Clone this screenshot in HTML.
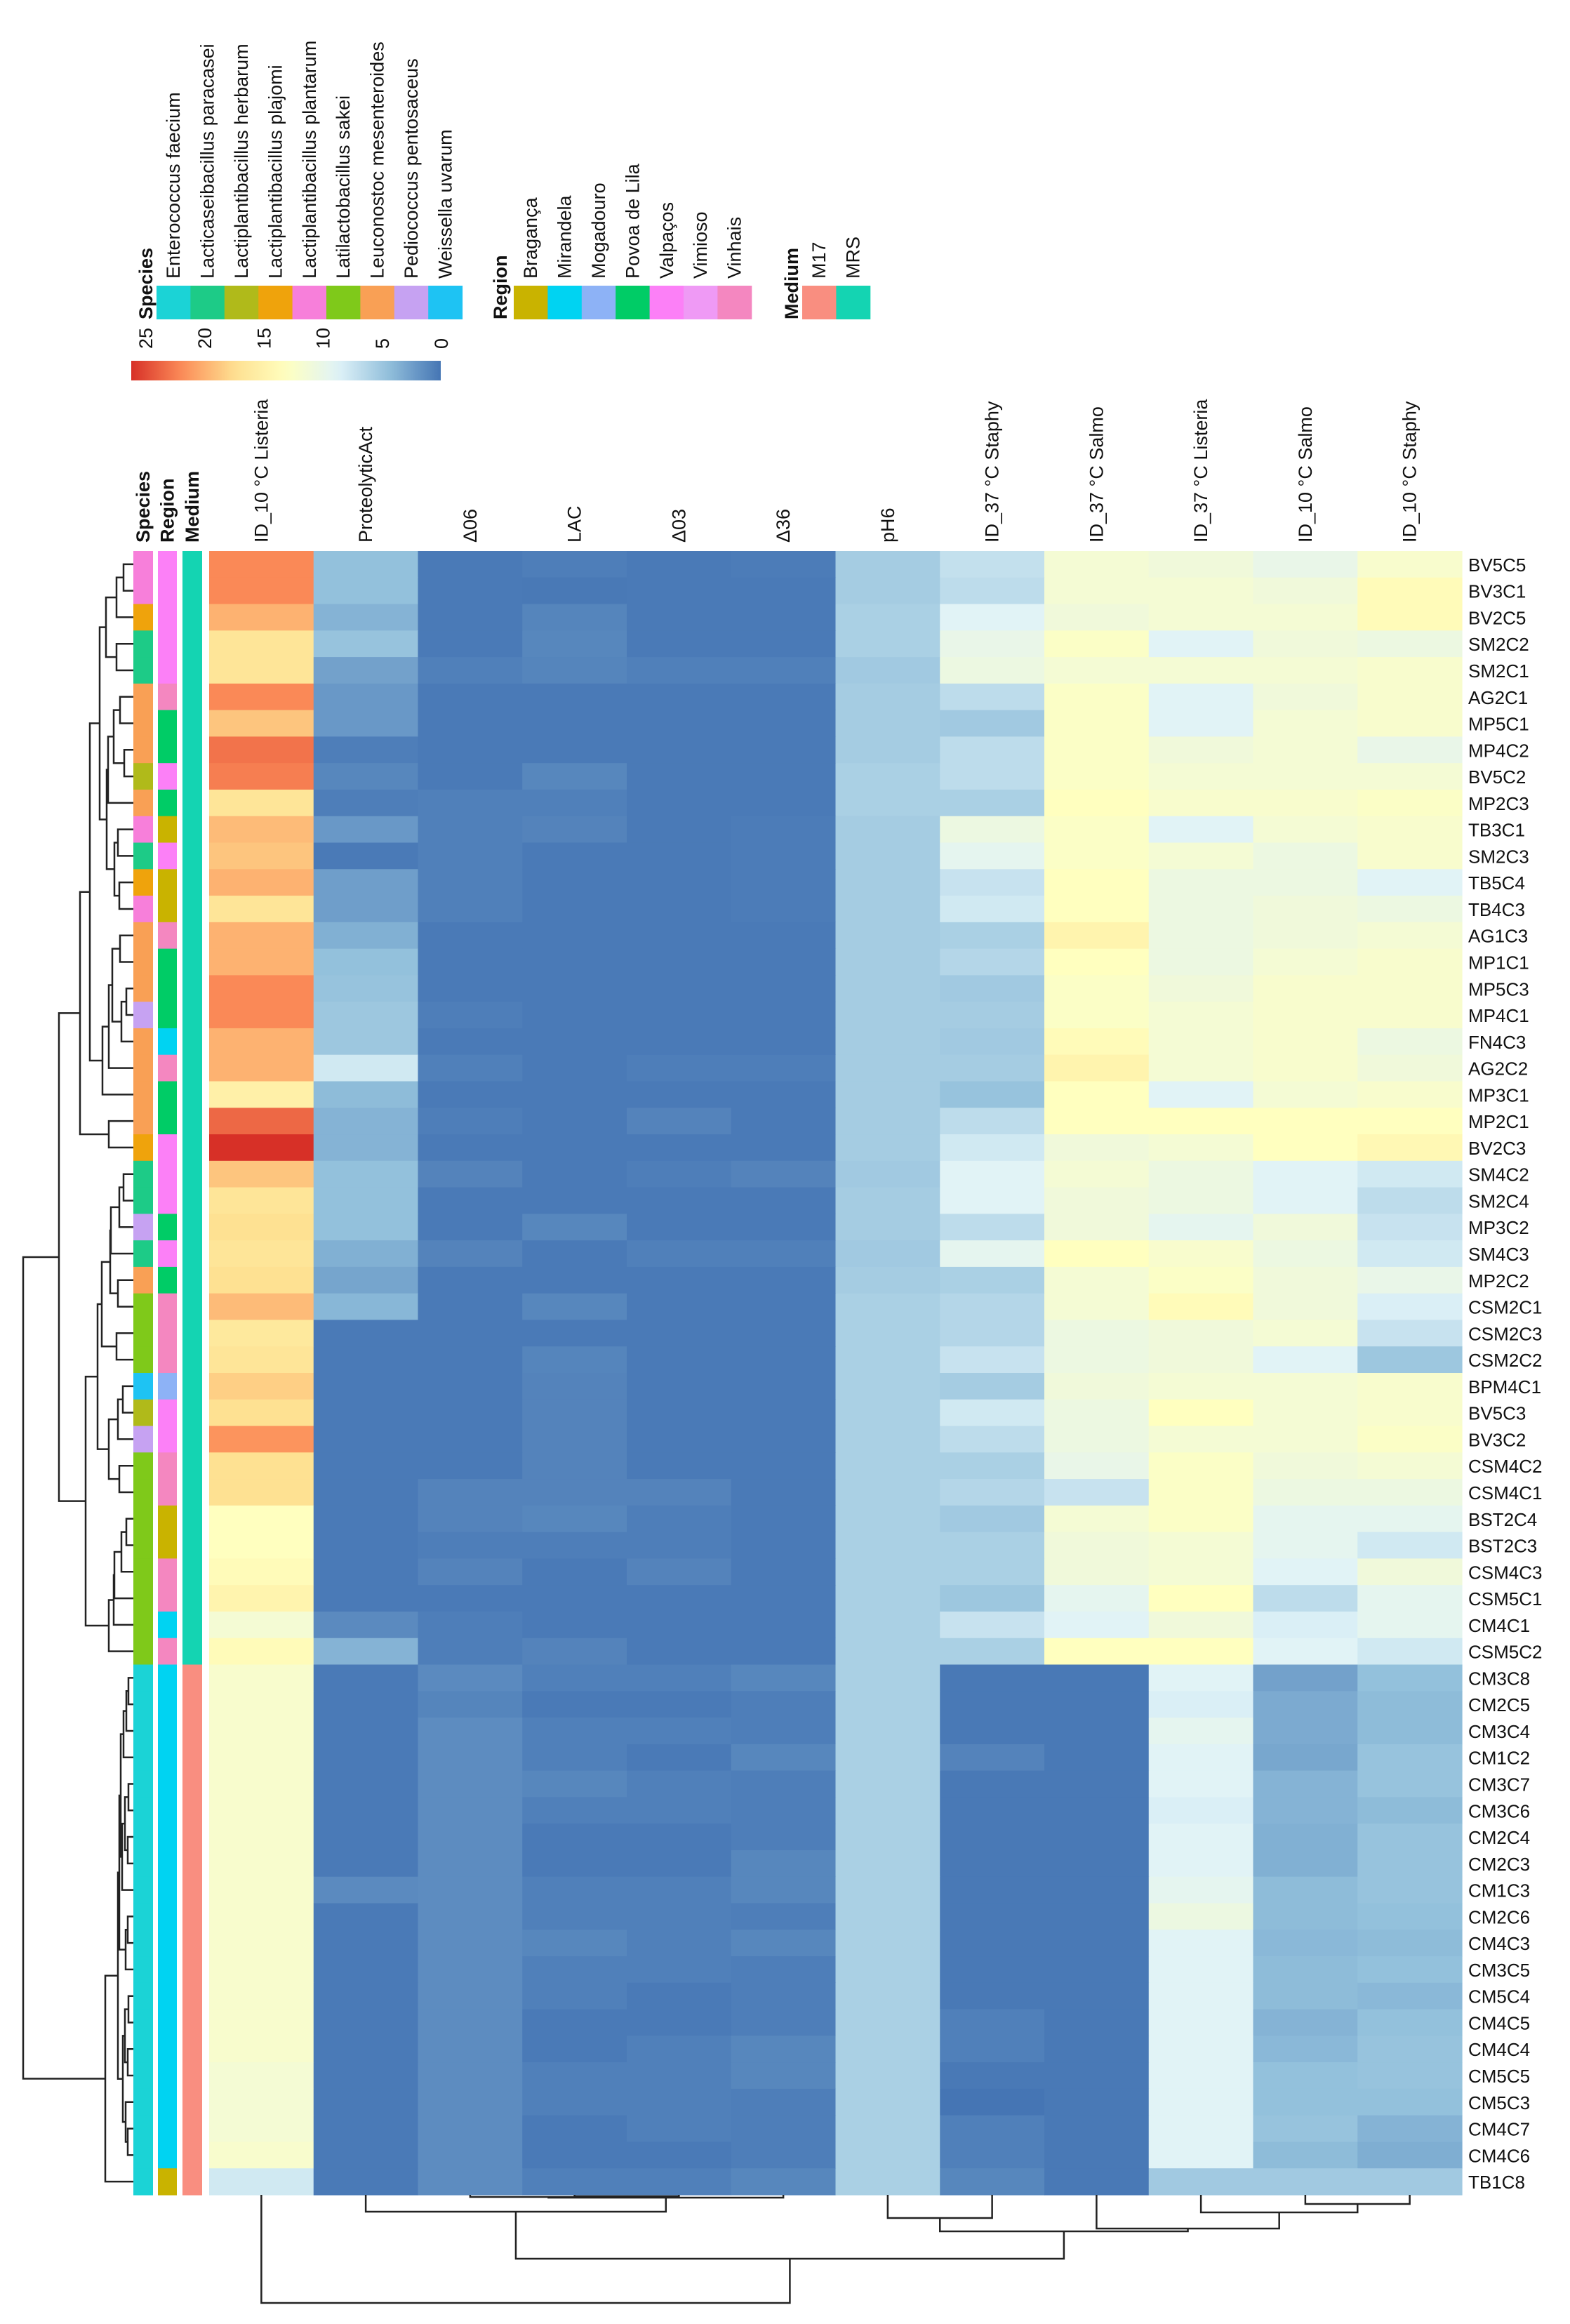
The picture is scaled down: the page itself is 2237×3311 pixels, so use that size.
<!DOCTYPE html>
<html><head><meta charset="utf-8"><style>
html,body{margin:0;padding:0;background:#fff;}
svg{display:block;font-family:"Liberation Sans",Arial,sans-serif;}
</style></head><body>
<svg id="chart" width="2237" height="3311" viewBox="0 0 2237 3311" xmlns="http://www.w3.org/2000/svg">
<rect width="2237" height="3311" fill="#fff"/>
<g id="legend"></g>
<g id="annot"></g>
<g id="cells"></g>
<g id="rowlabels"></g>
<g id="collabels"></g>
<g id="rowdend"></g>
<g id="coldend"></g>
</svg>
<script>
const columns = ["ID_10 °C Listeria","ProteolyticAct","Δ06","LAC","Δ03","Δ36","pH6","ID_37 °C Staphy","ID_37 °C Salmo","ID_37 °C Listeria","ID_10 °C Salmo","ID_10 °C Staphy"];
const rowNames = ["BV5C5","BV3C1","BV2C5","SM2C2","SM2C1","AG2C1","MP5C1","MP4C2","BV5C2","MP2C3","TB3C1","SM2C3","TB5C4","TB4C3","AG1C3","MP1C1","MP5C3","MP4C1","FN4C3","AG2C2","MP3C1","MP2C1","BV2C3","SM4C2","SM2C4","MP3C2","SM4C3","MP2C2","CSM2C1","CSM2C3","CSM2C2","BPM4C1","BV5C3","BV3C2","CSM4C2","CSM4C1","BST2C4","BST2C3","CSM4C3","CSM5C1","CM4C1","CSM5C2","CM3C8","CM2C5","CM3C4","CM1C2","CM3C7","CM3C6","CM2C4","CM2C3","CM1C3","CM2C6","CM4C3","CM3C5","CM5C4","CM4C5","CM4C4","CM5C5","CM5C3","CM4C7","CM4C6","TB1C8"];
const values = [
[21,4.3,0.3,0.5,0.3,0.4,5.2,6.8,11,10.5,9.5,11.5],
[21,4.3,0.3,0.2,0.3,0.3,5.2,6.5,11,11,10.5,13],
[19,3.5,0.3,0.9,0.3,0.3,5.5,8.5,10.5,11,11,13],
[16,4.5,0.3,1.0,0.3,0.3,5.5,9.5,12,8.5,10.5,10],
[16,2.5,0.6,0.9,0.6,0.6,5.0,10,11,11,11,11.5],
[21,2.0,0.3,0.3,0.3,0.3,5.2,6.5,12,8.5,10.5,11.5],
[18,2.0,0.3,0.3,0.3,0.3,5.2,5.0,12,8.5,11,11.5],
[22,0.5,0.3,0.3,0.3,0.3,5.2,6.5,12,10.5,11,9.5],
[21.5,1.0,0.3,1.0,0.3,0.3,5.5,6.5,12,11,11,11],
[16,0.5,0.6,0.6,0.3,0.3,5.5,5.5,12.5,11.5,11.5,12],
[18.5,2.0,0.6,0.8,0.3,0.4,5.2,10,12,8.5,11,11.5],
[18,0.3,0.6,0.3,0.3,0.4,5.2,9,12,11,10,11.5],
[19,2.3,0.6,0.3,0.3,0.4,5.2,7,12.5,10,10,8.5],
[16,2.3,0.6,0.3,0.3,0.4,5.2,7.5,12.5,10,10.5,10],
[19,3.3,0.3,0.3,0.3,0.3,5.2,5.5,14,10,10.5,11],
[19,4.3,0.3,0.3,0.3,0.3,5.2,6,12.5,10,11,11.5],
[21,4.5,0.3,0.3,0.3,0.3,5.2,5,12,10.5,11.5,11.5],
[21,4.8,0.5,0.3,0.3,0.3,5.2,5.2,12,11,11.5,11.5],
[19,4.8,0.3,0.3,0.3,0.3,5.2,5,13,11,11.5,10],
[19,7.5,0.6,0.3,0.5,0.5,5.2,5.2,14,11,11.5,10.5],
[14.5,4.0,0.3,0.3,0.3,0.3,5.2,4.5,12.5,8.5,11,11.5],
[22.5,3.5,0.5,0.3,0.8,0.3,5.2,6.5,12.5,12.5,12.5,12.5],
[25,3.5,0.3,0.3,0.3,0.3,5.2,7.5,10.5,11,12.5,13.5],
[18,4.3,0.8,0.3,0.5,0.8,5.0,8.5,11,10,8.5,7.5],
[16,4.3,0.3,0.3,0.3,0.3,5.2,8.5,10.5,10,8.5,6.5],
[16.5,4.3,0.3,1.0,0.3,0.3,5.2,6.5,10.5,9,10.5,7],
[16,3.3,0.8,0.3,0.6,0.6,5.0,9,12.5,11.5,10,7.5],
[16.5,2.7,0.3,0.3,0.3,0.3,5.2,5.5,11,12,10.5,9.5],
[18.5,3.7,0.3,1.0,0.3,0.3,5.5,6,11,13,10.5,8],
[15.5,0.3,0.3,0.3,0.3,0.3,5.5,6,10,10.5,11,7],
[16,0.3,0.3,0.9,0.3,0.3,5.5,7,10,10.5,8.5,4.8],
[17.5,0.3,0.3,0.8,0.3,0.3,5.5,5.2,10.5,11,11,11.5],
[16.5,0.3,0.3,0.8,0.3,0.3,5.5,7.5,10,12.5,11,11.5],
[20.5,0.3,0.3,0.8,0.3,0.3,5.5,6.5,10,11,11,12],
[16.5,0.3,0.3,0.8,0.3,0.3,5.5,5.5,9.5,12,10.5,11],
[16.5,0.3,0.8,0.8,0.8,0.3,5.5,6,7,12,10,10],
[12.5,0.3,0.8,1.0,0.5,0.3,5.5,5,11,12,9,9],
[12.5,0.3,0.5,0.5,0.5,0.3,5.5,5.5,10.5,11,9,7.5],
[13,0.3,0.8,0.3,0.8,0.3,5.5,5.5,10.5,11,8.5,10.5],
[14,0.3,0.3,0.3,0.3,0.3,5.5,4.8,9,12.5,6.5,9],
[11,1.2,0.5,0.3,0.3,0.3,5.5,7,8.5,10.5,8,9],
[13,3.5,0.5,0.8,0.3,0.3,5.5,5.5,12.5,12.5,8.5,7.5],
[11.5,0.3,1.2,0.6,0.6,1.0,5.5,0.2,0.2,8.5,2.5,4.3],
[11.5,0.3,0.9,0.3,0.3,0.5,5.5,0.2,0.2,8.0,3.0,4.0],
[11.5,0.3,1.3,0.6,0.6,0.5,5.5,0.2,0.2,9.0,3.0,4.0],
[11.5,0.3,1.3,0.6,0.3,1.0,5.5,0.8,0.2,8.5,2.8,4.5],
[11.5,0.3,1.3,1.0,0.6,0.5,5.5,0.2,0.2,8.5,3.5,4.5],
[11.5,0.3,1.3,0.6,0.6,0.5,5.5,0.2,0.2,8.0,3.5,4.0],
[11.5,0.3,1.3,0.3,0.3,0.5,5.5,0.2,0.2,8.5,3.3,4.5],
[11.5,0.3,1.3,0.3,0.3,1.0,5.5,0.2,0.2,8.5,3.3,4.5],
[11.5,1.2,1.3,0.6,0.6,1.0,5.5,0.2,0.2,9.0,4.0,4.5],
[11.5,0.3,1.3,0.6,0.6,0.5,5.5,0.2,0.2,10.0,4.0,4.3],
[11.5,0.3,1.3,1.0,0.6,1.0,5.5,0.2,0.2,8.5,3.8,4.0],
[11.5,0.3,1.3,0.6,0.6,0.5,5.5,0.2,0.2,8.5,4.0,4.3],
[11.5,0.3,1.3,0.6,0.3,0.5,5.5,0.2,0.2,8.5,4.0,3.8],
[11.5,0.3,1.3,0.3,0.3,0.5,5.5,0.6,0.2,8.5,3.5,4.3],
[11.5,0.3,1.3,0.3,0.6,1.0,5.5,0.6,0.2,8.5,3.8,4.5],
[11,0.3,1.3,0.6,0.6,1.0,5.5,0.2,0.2,8.5,4.3,4.5],
[11,0.3,1.3,0.6,0.6,0.5,5.5,0.0,0.2,8.5,4.3,4.3],
[11,0.3,1.3,0.3,0.6,0.5,5.5,0.6,0.2,8.5,4.5,3.5],
[11.5,0.3,1.3,0.3,0.3,0.5,5.5,0.6,0.2,8.5,4.0,3.2],
[7.5,0.3,1.3,0.6,0.6,1.0,5.5,1.0,0.2,5.0,5.0,5.0]
];
const speciesNames = ["Enterococcus faecium","Lacticaseibacillus paracasei","Lactiplantibacillus herbarum","Lactiplantibacillus plajomi","Lactiplantibacillus plantarum","Latilactobacillus sakei","Leuconostoc mesenteroides","Pediococcus pentosaceus","Weissella uvarum"];
const speciesColors = ["#1BD3D6","#1DCB87","#B0BA1A","#EFA30C","#F77FDA","#7FC91A","#F9A055","#C6A2F2","#1EC3F3"];
const regionNames = ["Bragança","Mirandela","Mogadouro","Povoa de Lila","Valpaços","Vimioso","Vinhais"];
const regionColors = ["#C9B300","#00D3F2","#8DB2F6","#00CC66","#FC80F7","#EF9AF5","#F487C0"];
const mediumNames = ["M17","MRS"];
const mediumColors = ["#F98E80","#14D4B2"];
const rowSpecies = [4,4,3,1,1,6,6,6,2,6,4,1,3,4,6,6,6,7,6,6,6,6,3,1,1,7,1,6,5,5,5,8,2,7,5,5,5,5,5,5,5,5,0,0,0,0,0,0,0,0,0,0,0,0,0,0,0,0,0,0,0,0];
const rowRegion = [4,4,4,4,4,6,3,3,4,3,0,4,0,0,6,3,3,3,1,6,3,3,4,4,4,3,4,3,6,6,6,2,4,4,6,6,0,0,6,6,1,6,1,1,1,1,1,1,1,1,1,1,1,1,1,1,1,1,1,1,1,0];
const rowMedium = [1,1,1,1,1,1,1,1,1,1,1,1,1,1,1,1,1,1,1,1,1,1,1,1,1,1,1,1,1,1,1,1,1,1,1,1,1,1,1,1,1,1,0,0,0,0,0,0,0,0,0,0,0,0,0,0,0,0,0,0,0,0];
const scaleTicks = [0,5,10,15,20,25];
const rowTree = [[[[[[[[0,1,176],2,166],[3,4,166],151],[[[[5,6,171],[7,8,177],162],9,154],[[10,11,168],[12,13,170],163],152],142],[[[[14,15,171],[[16,17,180],18,173],160],19,155],20,146],128],[21,22,155],114],
 [[[[[[[23,24,176],25,170],26,158],[27,28,168],157],[29,30,166],145],[[[31,32,175],33,168],[34,35,170],155],139],[[[[[36,37,180],38,173],39,163],40,162],41,155],122],84],
 [[[[[[[42,43,183],44,180],45,176],[[[46,47,183],[48,49,182],178],50,174],172],[[51,52,182],53,179],170],[[[54,55,183],[56,57,182],178],[58,[59,60,182],179],175],168],61,150],33];
const colTree = [0,[[1,[[2,[3,4,3129],3130],5,3131],3151],[[6,7,3160],[8,[9,[10,11,3140],3152],3175],3179],3218],3281];

const NS="http://www.w3.org/2000/svg";
const X0=298, X1=2083, Y0=785, Y1=3127;
const cw=(X1-X0)/columns.length, rh=(Y1-Y0)/rowNames.length;
const colX=i=>X0+i*cw, rowY=i=>Y0+i*rh;
const stops=[[0,[69,117,180]],[4.17,[145,191,219]],[8.33,[224,243,248]],[12.5,[255,255,191]],[16.67,[254,224,144]],[20.83,[252,141,89]],[25,[215,48,39]]];
function color(v){v=Math.max(0,Math.min(25,v));for(let i=0;i<stops.length-1;i++){const a=stops[i],b=stops[i+1];if(v<=b[0]){const t=(v-a[0])/(b[0]-a[0]);const c=a[1].map((x,k)=>Math.round(x+(b[1][k]-x)*t));return `rgb(${c[0]},${c[1]},${c[2]})`;}}return "rgb(215,48,39)";}
function mk(tag,attrs,parent){const e=document.createElementNS(NS,tag);for(const k in attrs)e.setAttribute(k,attrs[k]);parent.appendChild(e);return e;}
function rtext(x,yb,str,size,bold,parent){const t=mk("text",{transform:`translate(${x},${yb}) rotate(-90)`,"font-size":size,"dominant-baseline":"central","fill":"#111"},parent);if(bold)t.setAttribute("font-weight","bold");t.textContent=str;return t;}

const cells=document.getElementById("cells");
values.forEach((row,r)=>row.forEach((v,c)=>{
  const e=mk("rect",{x:colX(c),y:rowY(r),width:cw+0.6,height:rh+0.6,fill:color(v)},cells);
  
  
}));
const rl=document.getElementById("rowlabels");
rowNames.forEach((n,r)=>{const t=mk("text",{x:2092,y:rowY(r)+rh/2+1,"font-size":26,"dominant-baseline":"central",fill:"#111"},rl);t.textContent=n;
  
  });
const cl=document.getElementById("collabels");
columns.forEach((n,c)=>{const t=rtext(colX(c)+cw/2,773,n,27,false,cl);
  
  });
const an=document.getElementById("annot");
const annCols=[[190,218,rowSpecies,speciesColors,"Species"],[225,252,rowRegion,regionColors,"Region"],[260,288,rowMedium,mediumColors,"Medium"]];
annCols.forEach(([a,b,idx,cols,lab])=>{
  idx.forEach((k,r)=>{const e=mk("rect",{x:a,y:rowY(r),width:b-a,height:rh+0.6,fill:cols[k]},an);
    
    });
  const t=rtext((a+b)/2,773,lab,27,true,an);
  
  
});
const lg=document.getElementById("legend");
function legendBlock(x0,names,cols,title,tx){
  const w=48.4;
  names.forEach((n,i)=>{const e=mk("rect",{x:x0+i*w,y:407,width:w+0.5,height:48,fill:cols[i]},lg);
    
    
    const t=rtext(x0+i*w+w/2,397,n,27,false,lg);
    
    });
  const t=rtext(tx,455,title,27,true,lg);
  
  
}
legendBlock(223,speciesNames,speciesColors,"Species",208);
legendBlock(732,regionNames,regionColors,"Region",713);
legendBlock(1143,mediumNames,mediumColors,"Medium",1128);
const defs=mk("defs",{},lg);const gr=mk("linearGradient",{id:"cs",x1:"0",x2:"1",y1:"0",y2:"0"},defs);
for(let v=25;v>=0;v-=1){mk("stop",{offset:((25-v)/25).toFixed(3),"stop-color":color(v)},gr);}
const sv=x=>629-(x/25)*(629-208);
const bar=mk("rect",{x:187,y:514,width:441,height:28,fill:"url(#cs)"},lg);


scaleTicks.forEach(v=>{const t=rtext(sv(v),497,String(v),27,false,lg);
  
  });
function drawRow(node,g){
  if(typeof node==="number") return [190,rowY(node)+rh/2];
  const a=drawRow(node[0],g),b=drawRow(node[1],g),x=node[2];
  const p=`M${a[0]},${a[1]}H${x}V${b[1]}H${b[0]}`;
  const e=mk("path",{d:p,fill:"none",stroke:"#222","stroke-width":2.5},g);
  
  
  return [x,(a[1]+b[1])/2];
}
drawRow(rowTree,document.getElementById("rowdend"));
function drawCol(node,g){
  if(typeof node==="number") return [colX(node)+cw/2,Y1];
  const a=drawCol(node[0],g),b=drawCol(node[1],g),y=node[2];
  const p=`M${a[0]},${a[1]}V${y}H${b[0]}V${b[1]}`;
  const e=mk("path",{d:p,fill:"none",stroke:"#222","stroke-width":2.5},g);
  
  
  return [(a[0]+b[0])/2,y];
}
drawCol(colTree,document.getElementById("coldend"));
</script>
</body></html>
